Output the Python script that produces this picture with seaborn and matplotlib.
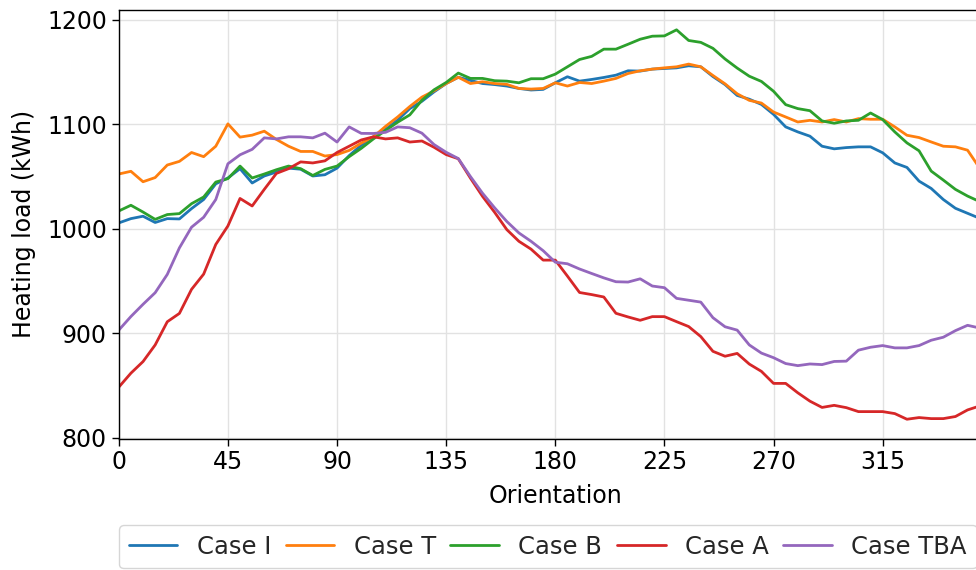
import numpy as np
import pandas as pd
import matplotlib
matplotlib.use("Agg")
import matplotlib.pyplot as plt
import seaborn as sns

# Building orientation in degrees (5-degree steps)
orientation = list(range(0, 360, 5))

case_i = [1005.6, 1009.7, 1012.0, 1006.0, 1009.7, 1009.4, 1019.3, 1028.0, 1043.0, 1048.6,
          1057.5, 1043.8, 1050.5, 1054.3, 1058.0, 1057.0, 1050.5, 1051.7, 1058.0, 1070.0,
          1080.0, 1088.0, 1095.0, 1104.0, 1115.0, 1122.0, 1131.0, 1139.0, 1145.0, 1142.0,
          1139.0, 1138.0, 1136.6, 1134.3, 1132.8, 1133.4, 1139.7, 1145.5, 1141.3, 1142.9,
          1144.8, 1147.0, 1151.2, 1150.9, 1152.8, 1153.4, 1154.0, 1156.0, 1155.0, 1145.7,
          1138.0, 1127.6, 1124.0, 1119.0, 1109.5, 1097.5, 1092.7, 1088.6, 1079.0, 1076.5,
          1077.7, 1078.4, 1078.4, 1072.7, 1063.0, 1058.7, 1045.6, 1038.6, 1028.0, 1019.6,
          1014.8, 1010.0]

case_t = [1052.4, 1055.0, 1045.0, 1049.0, 1061.0, 1064.5, 1073.0, 1069.0, 1079.0, 1100.4,
          1087.7, 1089.6, 1093.4, 1085.5, 1079.0, 1074.0, 1074.0, 1069.6, 1071.0, 1075.0,
          1082.0, 1088.0, 1098.0, 1107.0, 1117.0, 1126.0, 1132.0, 1139.0, 1145.0, 1139.0,
          1140.7, 1139.0, 1138.2, 1134.3, 1133.7, 1134.3, 1139.7, 1136.6, 1140.0, 1139.0,
          1141.3, 1143.9, 1148.6, 1151.2, 1152.8, 1154.0, 1155.0, 1157.6, 1155.0, 1146.7,
          1138.7, 1129.2, 1122.9, 1120.3, 1111.7, 1107.0, 1102.2, 1103.8, 1102.2, 1104.5,
          1102.2, 1105.4, 1104.8, 1104.8, 1097.5, 1089.5, 1087.3, 1083.1, 1079.0, 1078.4,
          1075.2, 1058.0]

case_b = [1017.0, 1022.5, 1016.0, 1009.0, 1013.6, 1014.5, 1024.0, 1030.4, 1044.7, 1048.0,
          1060.0, 1048.6, 1052.4, 1056.5, 1060.0, 1057.5, 1051.0, 1056.8, 1060.0, 1069.0,
          1077.0, 1086.0, 1094.0, 1102.0, 1109.0, 1123.0, 1133.0, 1140.0, 1149.0, 1143.9,
          1143.9, 1141.7, 1141.3, 1139.7, 1143.6, 1143.6, 1148.0, 1155.0, 1162.0, 1165.0,
          1171.9, 1171.9, 1176.6, 1181.4, 1184.3, 1184.6, 1190.4, 1180.2, 1178.4, 1172.7,
          1162.5, 1153.8, 1146.0, 1141.0, 1131.6, 1118.8, 1115.0, 1113.0, 1103.2, 1101.0,
          1103.2, 1103.8, 1110.8, 1104.5, 1092.7, 1082.2, 1074.6, 1055.2, 1046.6, 1037.7,
          1031.3, 1026.0]

case_a = [848.4, 861.8, 872.9, 888.8, 911.0, 919.0, 942.0, 956.6, 985.0, 1002.7,
          1029.0, 1021.8, 1037.7, 1053.0, 1057.5, 1064.0, 1063.0, 1065.0, 1073.0, 1079.0,
          1085.0, 1088.0, 1086.0, 1087.0, 1083.0, 1084.0, 1078.0, 1071.0, 1067.0, 1048.5,
          1031.0, 1015.7, 999.2, 988.0, 980.5, 970.0, 970.0, 954.7, 939.0, 937.0,
          934.7, 919.1, 915.6, 912.4, 915.9, 915.9, 911.1, 906.4, 896.8, 882.7,
          878.0, 880.7, 870.5, 863.5, 852.0, 852.0, 843.0, 835.0, 829.0, 831.0,
          828.8, 825.0, 825.0, 825.0, 823.1, 817.7, 819.3, 818.3, 818.3, 820.3,
          826.6, 830.4]

case_tba = [903.0, 916.0, 927.7, 938.8, 956.3, 981.7, 1001.5, 1011.0, 1028.0, 1062.2,
            1070.8, 1076.0, 1087.0, 1086.0, 1088.0, 1088.0, 1087.0, 1091.5, 1083.0, 1097.5,
            1091.3, 1091.2, 1092.3, 1097.5, 1096.7, 1091.5, 1080.6, 1073.2, 1067.2, 1050.0,
            1034.0, 1020.0, 1007.0, 996.0, 988.0, 979.0, 968.0, 966.5, 961.5, 957.2,
            953.0, 949.3, 949.0, 952.1, 945.2, 943.6, 933.4, 931.6, 929.8, 914.9,
            906.2, 903.0, 888.8, 881.0, 876.6, 871.0, 869.0, 870.6, 870.0, 873.0,
            873.3, 883.8, 886.6, 888.2, 886.0, 886.0, 888.2, 893.3, 896.2, 902.5,
            907.6, 905.0]

case_names = ["Case I", "Case T", "Case B", "Case A", "Case TBA"]
x_ticks = [0, 45, 90, 135, 180, 225, 270, 315]
y_ticks = [800, 900, 1000, 1100, 1200]

series = [case_i, case_t, case_b, case_a, case_tba]
df = pd.concat(
    [pd.DataFrame({"Orientation": orientation, "Heating load (kWh)": vals, "Case": name})
     for name, vals in zip(case_names, series)],
    ignore_index=True,
)

sns.set_theme(style="ticks", rc={"axes.grid": True, "grid.color": "#e2e2e2",
                                 "grid.linewidth": 1.0, "axes.edgecolor": "black",
                                 "axes.linewidth": 1.0})
plt.rcParams["font.family"] = ["DejaVu Sans"]

fig = plt.figure(figsize=(9.76, 5.70), dpi=100)
# the plot area runs a little past the right edge of the canvas
ax = fig.add_axes([0.1217, 0.2304, 0.8945, 0.7521])

sns.lineplot(data=df, x="Orientation", y="Heating load (kWh)", hue="Case",
             hue_order=case_names, palette="tab10", linewidth=2.0, ax=ax)

ax.set_xlim(0, 360)
ax.set_ylim(799.1, 1209.4)
ax.set_xticks(x_ticks)
ax.set_yticks(y_ticks)
ax.tick_params(axis="both", labelsize=17, length=5, width=1, color="black",
               labelcolor="black")
ax.set_xlabel("Orientation", fontsize=17, color="black", labelpad=7)
ax.set_ylabel("Heating load (kWh)", fontsize=17, color="black", labelpad=8)

leg = ax.legend(loc="upper left", bbox_to_anchor=(0.0, -0.2013), ncol=5,
                fontsize=17.5, frameon=True, borderaxespad=0, columnspacing=0.6,
                handlelength=2.0, handletextpad=0.8)
leg.get_frame().set_edgecolor("#cccccc")
leg.get_frame().set_linewidth(1.0)
for line in leg.get_lines():
    line.set_linewidth(2.0)

fig.savefig("out.png", dpi=100)
